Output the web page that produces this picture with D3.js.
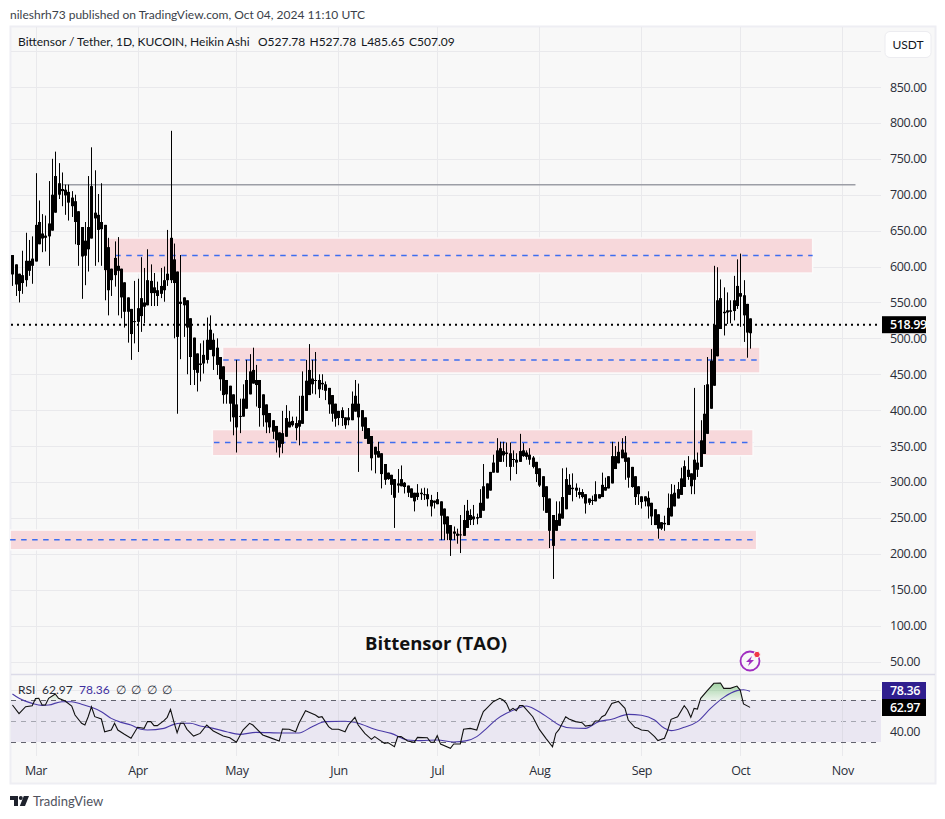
<!DOCTYPE html>
<meta charset="utf-8">

<!-- Load d3.js -->
<script src="https://cdn.jsdelivr.net/npm/d3@7"></script>

<style>
  html, body {
    margin: 0;
    padding: 0;
    background: #fff;
  }

  text {
    font-family: Lato, sans-serif;
    font-size: 12px;
    fill: #131722;
  }

  .grid line {
    stroke: #e9e9ec;
    shape-rendering: crispEdges;
  }

  .grid path,
  .axis path {
    display: none;
  }

  .axis text {
    font-family: "Open Sans", sans-serif;
    font-size: 12.5px;
    letter-spacing: -0.4px;
    fill: #2a2e39;
  }
</style>

<div id="my_dataviz"></div>
<script>
  // every candle is drawn black in the picture, so body top / bottom is what can be read
  var firstDay = -7; // days relative to Mar 1 2024, one candle per day

  var highs = [
    616,603,590,622,647,637,642,730,692,673,
    671,719,750,760,744,731,714,714,705,700,
    677,655,662,726,766,734,701,716,658,640,
    597,635,641,597,578,557,541,580,583,613,
    598,624,603,591,579,598,600,651,789,632,
    593,616,557,553,528,501,479,493,497,529,
    532,507,500,474,461,442,434,422,470,416,
    436,470,478,487,463,442,422,408,396,386,
    378,369,399,407,399,391,391,420,454,470,
    492,470,481,450,450,440,431,421,409,399,
    404,390,403,426,442,437,400,390,375,364,
    349,356,340,325,313,310,304,318,323,300,
    295,291,285,297,291,292,291,282,274,286,
    273,263,252,240,238,235,254,268,275,262,
    268,256,290,325,298,314,338,361,356,356,
    355,355,344,340,367,354,344,347,336,328,
    319,308,294,277,254,273,273,319,320,311,
    312,298,292,290,283,277,281,301,283,313,
    306,308,356,350,356,361,364,334,321,308,
    294,280,280,287,271,262,255,244,253,284,
    297,296,300,320,330,336,312,431,341,386,
    435,474,485,601,599,582,571,564,553,587,
    610,618,581,548,527.78
  ];

  var bodyTops = [
    616,603,590,588,608,608,611,658,662,646,
    643,660,700,726,716,708,707,704,696,691,
    677,655,636,655,712,675,672,662,658,627,
    597,612,601,597,578,557,541,524,542,556,
    550,581,580,571,567,573,581,590,640,610,
    593,551,557,553,528,501,479,465,477,498,
    512,498,487,474,461,442,434,422,408,392,
    416,442,454,456,442,442,422,408,396,386,
    378,369,368,389,384,385,382,386,420,441,
    456,444,442,442,438,436,431,421,409,399,
    400,390,390,409,420,409,400,390,375,364,
    349,343,340,325,313,310,304,298,304,299,
    295,291,285,285,285,283,283,275,274,276,
    273,263,252,240,231,228,227,247,260,254,
    252,251,271,294,298,314,327,344,347,343,
    341,340,332,331,343,344,341,338,334,328,
    319,308,294,277,254,247,256,279,304,296,
    292,292,286,286,283,277,275,283,283,296,
    293,308,336,336,342,345,341,334,321,308,
    294,280,280,278,271,262,255,244,243,264,
    283,285,290,305,322,317,312,331,327,358,
    395,436,469,519,553,556,537,539,539,553,
    573,563,560,548,527.78
  ];

  var bodyBottoms = [
    589,575,566,577,581,594,601,607,631,639,
    640,642,650,675,700,705,699,689,684,662,
    630,614,615,624,639,667,651,652,595,567,
    581,588,594,557,537,537,506,523,523,531,
    544,546,563,563,559,562,567,581,581,577,
    502,548,546,515,474,456,452,463,465,470,
    484,475,463,443,421,422,409,390,376,391,
    391,402,422,437,435,403,393,383,376,370,
    358,348,353,363,376,379,375,377,381,399,
    421,436,441,429,436,427,408,395,388,389,
    389,379,386,386,398,390,377,360,353,333,
    338,334,311,303,304,296,278,295,294,293,
    285,278,273,279,283,282,276,266,271,269,
    253,241,228,219,228,225,227,225,236,247,
    248,249,250,260,277,288,313,313,328,337,
    339,321,331,327,328,336,335,331,321,311,
    295,279,257,232,211,232,239,249,262,282,
    290,288,282,279,270,271,274,273,277,279,
    288,291,298,318,326,333,328,306,293,279,
    283,272,273,266,252,240,235,235,241,240,
    252,266,277,282,293,307,294,303,317,321,
    339,367,402,434,475,513,535,536,537,538,
    545,558,532,508,507.09
  ];

  var lows = [
    573,559,550,562,572,587,576,607,631,620,
    621,601,650,675,694,684,672,664,669,631,
    601,555,574,593,639,601,606,601,553,532,
    559,572,532,528,515,494,470,493,481,509,
    521,546,545,545,545,556,551,573,577,500,
    395,471,502,450,435,435,426,440,451,465,
    484,456,449,427,409,409,384,365,341,368,
    391,402,422,437,405,377,377,368,368,360,
    341,334,340,363,376,377,358,351,381,399,
    421,423,422,417,428,414,395,384,377,379,
    378,374,379,386,398,314,371,360,353,316,
    312,334,291,296,303,282,236,285,294,284,
    279,278,259,275,275,275,266,252,263,269,
    219,219,219,197,219,214,201,225,236,240,
    240,241,250,260,277,288,313,313,328,328,
    321,302,321,311,328,335,331,324,319,300,
    293,260,257,208,165,232,239,249,262,282,
    273,279,277,277,256,268,268,273,277,279,
    288,291,298,318,326,333,303,292,292,268,
    268,263,266,249,240,240,221,233,232,240,
    252,266,277,282,293,303,283,283,307,321,
    339,367,402,434,475,513,504,520,521,525,
    541,516,495,473,485.65
  ];

  var rsiDays = [
    -7,-5,-3,-1,0,1,2,3,4,6,7,9,11,12,14,15,16,17,18,20,
    21,23,24,25,27,29,31,33,34,35,36,37,39,40,41,42,43,44,45,46,
    48,50,52,54,57,59,61,63,65,66,69,71,74,75,77,79,80,82,85,86,
    87,89,90,92,94,95,97,98,100,102,103,106,107,109,110,111,113,115,116,119,
    120,121,122,123,126,127,129,130,132,134,135,136,137,139,141,142,143,144,145,146,
    147,148,151,153,155,157,158,159,161,162,164,166,167,169,170,171,172,173,175,177,
    179,180,182,183,184,186,188,189,191,192,193,195,197,198,199,200,201,202,204,206,
    208,209,211,213,214,215,217
  ];

  var rsiValues = [
    65.2,57,63.6,64.6,71.3,71.6,65.2,65.2,71.6,75.7,71.6,69,64.3,55.7,47.8,46.2,54.1,63.6,54.1,51.9,
    39.8,41.4,47.8,41.4,37.3,33.5,44,43,49.4,49.4,45.6,45.6,50.3,53.5,61.1,49.4,38.9,47.8,47.8,42.1,
    35.7,38.2,46.2,40.5,35.7,34.1,29.7,41.4,47.8,46.2,36.7,34.4,30.9,42.4,42.1,39.8,47.8,59.8,55.7,53.5,
    54.1,44.6,42.1,42.1,39.8,46.2,53.5,46.2,38.2,32.5,35.1,28.7,29.4,25.5,35.1,35.1,30.9,29.7,34.4,34.1,
    29.7,29.7,36,28.1,24,28.1,28.1,42.1,43,41.4,50.9,58.9,62.1,68.4,71.6,70,66.8,59.8,62,59.8,
    64.6,64.6,54.1,42,33.5,25.5,38.2,42,54.1,51.9,49.4,48.4,45.2,46.2,50,50,54.1,55.7,66.8,68.7,
    62,50.9,44,43,41.4,40.8,35.1,31.3,33.5,41.4,51.6,54.1,64.6,60.5,53.5,62,61.4,71.6,78.9,85.9,
    86.2,81.1,81.1,83.3,79.5,66.2,62.97
  ];

  var rsiMaDays = [
    -7,-5,-1,2,4,8,11,14,17,20,23,26,29,32,34,39,42,44,47,50,
    54,58,62,67,75,80,84,88,94,98,103,108,113,117,122,127,131,134,137,140,
    143,146,149,152,156,159,163,167,171,175,180,184,188,191,193,197,201,205,209,213,
    215,217
  ];

  var rsiMaValues = [
    75.7,71.6,66.8,64.9,65.2,68.4,68.4,65.9,63,58.9,52.5,48.7,46.2,42.1,41.4,43,46.8,47.8,47.8,45.2,
    43,39.8,37.3,39.2,38.6,38.6,44.6,49.4,49.7,47.8,42.1,38.2,31.9,31.3,31.9,30,31.3,35.1,43,51.6,
    57.3,61.4,64.3,60.5,52.5,46.2,43.3,43,49.4,51.6,56.3,55.4,50.9,43,40.8,44,49.4,62,72.5,78.9,
    79.8,78.36
  ];

  // drawn zones: price range, dashed level, start and end day
  var zoneTops = [639.7, 487.9, 373, 233];
  var zoneBottoms = [590.9, 451.7, 336.5, 205.6];
  var zoneLevels = [615.5, 469.8, 355.1, 219.5];
  var zoneStarts = [21.2, 56.8, 53.7, -7.7];
  var zoneLevelStarts = [24.2, 57, 54.2, -7.7];
  var zoneEnds = [236, 220, 217.9, 219];

  var monthDays = [0, 31, 61, 92, 122, 153, 184, 214, 245];
  var monthLabels = ["Mar", "Apr", "May", "Jun", "Jul", "Aug", "Sep", "Oct", "Nov"];
  var priceTicks = [50, 100, 150, 200, 250, 300, 350, 400, 450, 500, 550, 600, 650, 700, 750, 800, 850];
  var priceGrid = priceTicks.concat([900]);
  var rsiTicks = [40];
  var rsiGrid = [40, 80];
  var rsiBands = [70, 50, 30];

  var lastPrice = 518.99;
  var lastRsi = 62.97;
  var lastRsiMa = 78.36;
  var resistance = { price: 714, from: 8, to: 249 };

  // Frame
  var width = 945, height = 819;
  var frameLeft = 11, frameRight = 935, plotRight = 881, frameTop = 27, frameBottom = 783;
  var paneBottom = 674, gridBottom = 756;

  // Scales
  var x = d3.scaleLinear().domain([0, 245]).range([35.5, 842.3]);
  var y = d3.scaleLinear().domain([50, 850]).range([661.5, 87]);
  var yRsi = d3.scaleLinear().domain([30, 70]).range([742, 700]);

  var svg = d3.select("#my_dataviz").append("svg")
    .attr("width", width)
    .attr("height", height)
    .style("display", "block");

  svg.append("text")
    .attr("x", 10).attr("y", 19)
    .style("fill", "#3b3f4a")
    .text("nileshrh73 published on TradingView.com, Oct 04, 2024 11:10 UTC");

  svg.append("rect")
    .attr("x", frameLeft - 0.5).attr("y", frameTop - 0.5)
    .attr("width", frameRight - frameLeft + 1).attr("height", frameBottom - frameTop + 1)
    .style("fill", "#f8f8f8")
    .style("stroke", "#eeeef3")
    .style("stroke-width", 2);

  var defs = svg.append("defs");
  defs.append("clipPath").attr("id", "plot")
    .append("rect").attr("x", frameLeft - 1).attr("y", frameTop).attr("width", plotRight - frameLeft + 1).attr("height", gridBottom - frameTop);
  defs.append("clipPath").attr("id", "above70")
    .append("rect").attr("x", frameLeft).attr("y", frameTop).attr("width", plotRight - frameLeft).attr("height", yRsi(70) - frameTop);
  var grad = defs.append("linearGradient").attr("id", "rsiGreen")
    .attr("gradientUnits", "userSpaceOnUse")
    .attr("x1", 0).attr("x2", 0).attr("y1", yRsi(86)).attr("y2", yRsi(70));
  grad.append("stop").attr("offset", "0%").style("stop-color", "#4caf50").style("stop-opacity", 0.5);
  grad.append("stop").attr("offset", "100%").style("stop-color", "#4caf50").style("stop-opacity", 0.08);

  // Grid
  svg.append("g")
    .attr("class", "grid")
    .attr("transform", "translate(0," + frameTop + ")")
    .call(d3.axisBottom(x).tickValues(monthDays).tickSize(gridBottom - frameTop).tickFormat(""));

  svg.append("g")
    .attr("class", "grid")
    .attr("transform", "translate(" + frameLeft + ",0)")
    .call(d3.axisRight(y).tickValues(priceGrid).tickSize(plotRight - frameLeft).tickFormat(""));

  svg.append("g")
    .attr("class", "grid")
    .attr("transform", "translate(" + frameLeft + ",0)")
    .call(d3.axisRight(yRsi).tickValues(rsiGrid).tickSize(plotRight - frameLeft).tickFormat(""));

  // Axes
  svg.append("g")
    .attr("class", "axis")
    .attr("transform", "translate(890,0)")
    .call(d3.axisRight(y).tickValues(priceTicks).tickSize(0).tickPadding(0).tickFormat(d3.format(".2f")));

  svg.append("g")
    .attr("class", "axis")
    .attr("transform", "translate(890,0)")
    .call(d3.axisRight(yRsi).tickValues(rsiTicks).tickSize(0).tickPadding(0).tickFormat(d3.format(".2f")));

  svg.append("g")
    .attr("class", "axis")
    .attr("transform", "translate(0,762)")
    .call(d3.axisBottom(x).tickValues(monthDays).tickSize(0).tickPadding(4).tickFormat(function (d, i) { return monthLabels[i]; }));

  // Pane separator
  svg.append("line")
    .attr("x1", frameLeft).attr("x2", frameRight)
    .attr("y1", paneBottom + 0.5).attr("y2", paneBottom + 0.5)
    .style("stroke", "#dcdbe8")
    .style("stroke-width", 1.5);

  var plot = svg.append("g").attr("clip-path", "url(#plot)");

  // Zones
  zoneTops.forEach(function (t, i) {
    plot.append("rect")
      .attr("x", x(zoneStarts[i]))
      .attr("y", y(t))
      .attr("width", x(zoneEnds[i]) - x(zoneStarts[i]))
      .attr("height", y(zoneBottoms[i]) - y(t))
      .style("fill", "#f7d8db")
      .style("stroke", "#fbfafa")
      .style("stroke-width", 1.5);

    plot.append("line")
      .attr("x1", x(zoneLevelStarts[i]))
      .attr("x2", x(zoneEnds[i]))
      .attr("y1", y(zoneLevels[i]))
      .attr("y2", y(zoneLevels[i]))
      .style("stroke", "#3d6df0")
      .style("stroke-width", 1.5)
      .style("stroke-dasharray", "5.5 5.5");
  });

  plot.append("line")
    .attr("x1", x(resistance.from)).attr("x2", x(resistance.to))
    .attr("y1", y(resistance.price)).attr("y2", y(resistance.price))
    .style("stroke", "#9c9ea6")
    .style("stroke-width", 1.5);

  plot.append("line")
    .attr("x1", frameLeft).attr("x2", plotRight)
    .attr("y1", y(lastPrice)).attr("y2", y(lastPrice))
    .style("stroke", "#000")
    .style("stroke-width", 2)
    .style("stroke-dasharray", "2 4");

  // Candles
  var candles = plot.append("g").selectAll("g")
    .data(highs)
    .enter().append("g");

  candles.append("line")
    .attr("x1", function (d, i) { return Math.round(x(firstDay + i)) + 0.5; })
    .attr("x2", function (d, i) { return Math.round(x(firstDay + i)) + 0.5; })
    .attr("y1", function (d) { return y(d); })
    .attr("y2", function (d, i) { return y(lows[i]); })
    .style("stroke", "#000")
    .style("stroke-width", 1);

  candles.append("rect")
    .attr("x", function (d, i) { return Math.round(x(firstDay + i)) - 1; })
    .attr("width", 3)
    .attr("y", function (d, i) { return y(bodyTops[i]); })
    .attr("height", function (d, i) { return Math.max(1, y(bodyBottoms[i]) - y(bodyTops[i])); })
    .style("fill", "#000");

  // RSI pane
  plot.append("rect")
    .attr("x", frameLeft).attr("width", plotRight - frameLeft)
    .attr("y", yRsi(70)).attr("height", yRsi(30) - yRsi(70))
    .style("fill", "#eae7f2");

  rsiBands.forEach(function (b) {
    plot.append("line")
      .attr("x1", frameLeft).attr("x2", plotRight)
      .attr("y1", Math.round(yRsi(b)) + 0.5).attr("y2", Math.round(yRsi(b)) + 0.5)
      .style("stroke", b === 50 ? "#a5a6b0" : "#62636e")
      .style("stroke-width", 1)
      .style("stroke-dasharray", "5 5");
  });

  // redraw the grid lines that run through the band
  monthDays.forEach(function (m) {
    plot.append("line")
      .attr("x1", Math.round(x(m)) + 0.5).attr("x2", Math.round(x(m)) + 0.5)
      .attr("y1", yRsi(70)).attr("y2", yRsi(30))
      .style("stroke", "#dedce6");
  });

  var rsiPoints = rsiDays.map(function (d, i) { return [d, rsiValues[i]]; });
  var rsiMaPoints = rsiMaDays.map(function (d, i) { return [d, rsiMaValues[i]]; });

  plot.append("path")
    .datum(rsiPoints)
    .attr("clip-path", "url(#above70)")
    .attr("d", d3.area()
      .x(function (d) { return x(d[0]); })
      .y0(yRsi(70))
      .y1(function (d) { return yRsi(d[1]); }))
    .style("fill", "url(#rsiGreen)");

  plot.append("path")
    .datum(rsiMaPoints)
    .attr("d", d3.line()
      .x(function (d) { return x(d[0]); })
      .y(function (d) { return yRsi(d[1]); })
      .curve(d3.curveMonotoneX))
    .style("fill", "none")
    .style("stroke", "#4a3aa7")
    .style("stroke-width", 1.1);

  plot.append("path")
    .datum(rsiPoints)
    .attr("d", d3.line()
      .x(function (d) { return x(d[0]); })
      .y(function (d) { return yRsi(d[1]); }))
    .style("fill", "none")
    .style("stroke", "#111")
    .style("stroke-width", 1.1);

  // Legend texts
  svg.append("text").attr("x", 18).attr("y", 46).text("Bittensor / Tether, 1D, KUCOIN, Heikin Ashi");
  var ohlcLabels = ["O527.78", "H527.78", "L485.65", "C507.09"];
  var ohlcLefts = [258, 309.5, 361, 409];
  ohlcLabels.forEach(function (t, i) {
    svg.append("text").attr("x", ohlcLefts[i]).attr("y", 46).text(t);
  });

  var rsiLabels = ["RSI", "62.97", "78.36", "∅", "∅", "∅", "∅"];
  var rsiLefts = [18, 42, 79, 116, 131, 147, 162];
  rsiLabels.forEach(function (t, i) {
    svg.append("text")
      .attr("x", rsiLefts[i]).attr("y", 694)
      .style("fill", i === 2 ? "#3f2f9f" : "#2a2e39")
      .text(t);
  });

  svg.append("text")
    .attr("x", 436).attr("y", 650)
    .attr("text-anchor", "middle")
    .style("font-family", "'Open Sans', sans-serif")
    .style("font-size", "18.5px")
    .style("font-weight", 700)
    .style("fill", "#111")
    .text("Bittensor (TAO)");

  // USDT button
  svg.append("rect")
    .attr("x", 885).attr("y", 31.5).attr("width", 46).attr("height", 26).attr("rx", 5)
    .style("fill", "#fff").style("stroke", "#ececf0");
  svg.append("text")
    .attr("x", 908).attr("y", 49).attr("text-anchor", "middle").text("USDT");

  // Value labels
  function valueLabel(value, col) {
    var yy = col.y;
    svg.append("rect")
      .attr("x", 882).attr("y", yy - col.h / 2).attr("width", 44).attr("height", col.h)
      .style("fill", col.fill);
    svg.append("text")
      .attr("x", 890).attr("y", yy + 4.5)
      .style("font-family", "'Open Sans', sans-serif")
      .style("letter-spacing", "-0.4px")
      .style("fill", "#fff").style("font-size", "12.5px").style("font-weight", 600)
      .text(d3.format(".2f")(value));
  }
  valueLabel(lastPrice, { y: y(lastPrice), h: 17, fill: "#000" });
  valueLabel(lastRsiMa, { y: 690.5, h: 17, fill: "#2f1e8e" });
  valueLabel(lastRsi, { y: 707.5, h: 17, fill: "#000" });

  // Bolt icon
  var icon = svg.append("g").attr("transform", "translate(750,661)");
  icon.append("circle").attr("r", 9.5)
    .style("fill", "#f8f8f8").style("stroke", "#a02ec0").style("stroke-width", 1.8);
  icon.append("path")
    .attr("d", "M2,-5 L-4,1 L-0.5,1 L-2,5 L4,-1 L0.5,-1 Z")
    .style("fill", "#a02ec0");
  icon.append("circle").attr("cx", 7).attr("cy", -6.5).attr("r", 3.2)
    .style("fill", "#f23645").style("stroke", "#f8f8f8");

  // Footer logo
  var logo = svg.append("g").attr("transform", "translate(10,796)").style("fill", "#1e222d");
  logo.append("path").attr("d", "M0,0 H8 V10 H4 V4 H0 Z");
  logo.append("circle").attr("cx", 10.8).attr("cy", 2).attr("r", 2);
  logo.append("path").attr("d", "M13.8,0 H19 L15,10 H9.8 Z");
  svg.append("text")
    .attr("x", 33).attr("y", 806)
    .style("font-size", "13px")
    .style("fill", "#50535e")
    .text("TradingView");
</script>
